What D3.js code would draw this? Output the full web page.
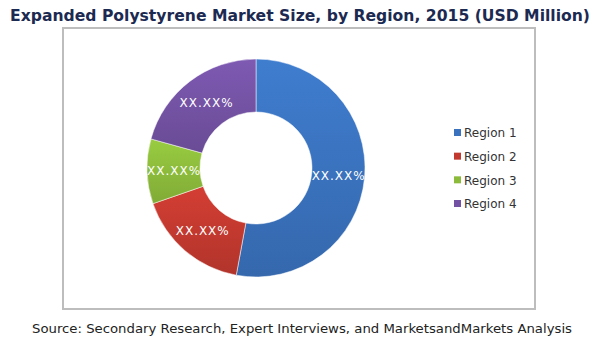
<!DOCTYPE html>
<html>
<head>
<meta charset="utf-8">
<script src="https://cdn.jsdelivr.net/npm/d3@7"></script>
<style>
  body { margin: 0; background: #fff; }
  svg { display: block; font-family: "DejaVu Sans", Verdana, sans-serif; }
</style>
</head>
<body>
<div id="chart"></div>
<script>
// Chart data
const regions = ["Region 1", "Region 2", "Region 3", "Region 4"];
const shares = [52.9, 16.8, 9.6, 20.7];
const sliceLabels = ["XX.XX%", "XX.XX%", "XX.XX%", "XX.XX%"];
const colors = ["#3a72bd", "#c2392f", "#8cbb3b", "#7352a3"];

const width = 600, height = 342;

const svg = d3.select("#chart")
  .append("svg")
  .attr("width", width)
  .attr("height", height);

// Title
svg.append("text")
  .attr("x", width / 2)
  .attr("y", 21)
  .attr("text-anchor", "middle")
  .attr("textLength", 580)
  .attr("lengthAdjust", "spacingAndGlyphs")
  .style("font-size", "15.5px")
  .style("font-weight", "bold")
  .style("fill", "#1c2a52")
  .text("Expanded Polystyrene Market Size, by Region, 2015 (USD Million)");

// Plot area frame
svg.append("rect")
  .attr("x", 63)
  .attr("y", 28)
  .attr("width", 472)
  .attr("height", 281)
  .attr("fill", "none")
  .attr("stroke", "#bdbdbd")
  .attr("stroke-width", 2);

// Gradients to mimic the shaded slices
const defs = svg.append("defs");
colors.forEach((c, i) => {
  const g = defs.append("linearGradient")
    .attr("id", "grad" + i)
    .attr("x1", 0).attr("y1", 0).attr("x2", 0).attr("y2", 1);
  g.append("stop").attr("offset", "0%").attr("stop-color", d3.color(c).brighter(0.25));
  g.append("stop").attr("offset", "100%").attr("stop-color", d3.color(c).darker(0.25));
});

const cx = 256, cy = 168;
const pie = d3.pie().sort(null).value(d => d);
const arc = d3.arc().innerRadius(56).outerRadius(109);

const donut = svg.append("g")
  .attr("transform", `translate(${cx},${cy})`);

const arcs = pie(shares);

donut.selectAll("path")
  .data(arcs)
  .join("path")
  .attr("d", arc)
  .attr("fill", (d, i) => `url(#grad${i})`)
  .attr("stroke", "#fff")
  .attr("stroke-width", 0.5);

donut.selectAll(".lbl")
  .data(arcs)
  .join("text")
  .attr("class", "lbl")
  .attr("transform", d => `translate(${arc.centroid(d)})`)
  .attr("text-anchor", "middle")
  .attr("dy", "0.35em")
  .attr("textLength", 53)
  .style("font-size", "12px")
  .style("fill", "#fff")
  .text((d, i) => sliceLabels[i]);

// Legend
const y = d3.scalePoint().domain(regions).range([133, 204]);
const legend = svg.append("g");
legend.selectAll("rect")
  .data(regions)
  .join("rect")
  .attr("x", 454)
  .attr("y", d => y(d) - 4)
  .attr("width", 7)
  .attr("height", 7)
  .attr("fill", (d, i) => colors[i]);
legend.selectAll("text")
  .data(regions)
  .join("text")
  .attr("x", 464)
  .attr("y", d => y(d))
  .attr("dy", "0.35em")
  .style("font-size", "12px")
  .style("fill", "#333")
  .text(d => d);

// Source note
svg.append("text")
  .attr("x", 302)
  .attr("y", 333)
  .attr("text-anchor", "middle")
  .attr("textLength", 540)
  .attr("lengthAdjust", "spacingAndGlyphs")
  .style("font-size", "11.5px")
  .style("fill", "#222")
  .text("Source: Secondary Research, Expert Interviews, and MarketsandMarkets Analysis");
</script>
</body>
</html>
